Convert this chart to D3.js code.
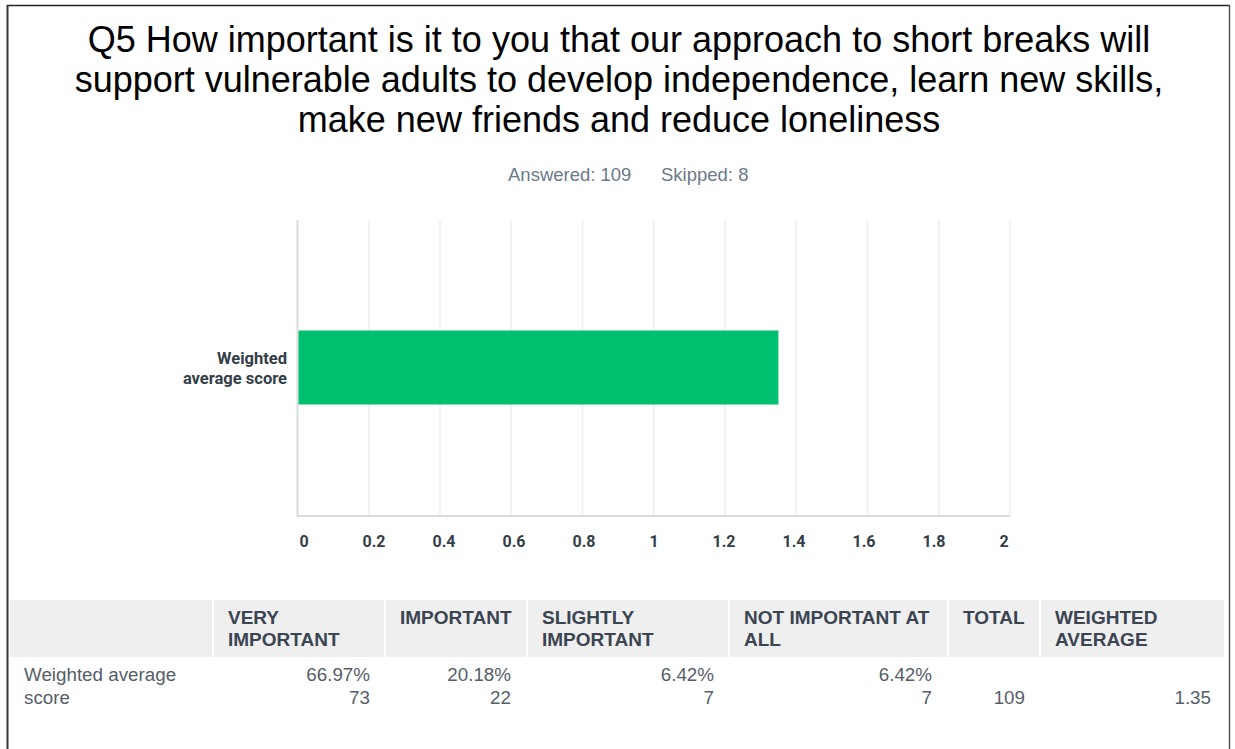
<!DOCTYPE html>
<html>
<head>
<meta charset="utf-8">
<script src="https://cdn.jsdelivr.net/npm/d3@7"></script>
<style>
  html, body { margin: 0; padding: 0; background: #fff; }
  svg { display: block; }
</style>
</head>
<body>
<svg id="chart" width="1235" height="749"></svg>
<script>
// ---- data ----
const titleLines = [
  "Q5 How important is it to you that our approach to short breaks will",
  "support vulnerable adults to develop independence, learn new skills,",
  "make new friends and reduce loneliness"
];
const answered = 109;
const skipped = 8;
const categories = ["Weighted average score"];
const categoryLabelLines = [["Weighted", "average score"]];
const values = [1.35];
const xTicks = [0, 0.2, 0.4, 0.6, 0.8, 1, 1.2, 1.4, 1.6, 1.8, 2];
const tableHeaders = [
  [""],
  ["VERY", "IMPORTANT"],
  ["IMPORTANT"],
  ["SLIGHTLY", "IMPORTANT"],
  ["NOT IMPORTANT AT", "ALL"],
  ["TOTAL"],
  ["WEIGHTED", "AVERAGE"]
];
const rowLabelLines = ["Weighted average", "score"];
const percents = ["66.97%", "20.18%", "6.42%", "6.42%"];
const counts = [73, 22, 7, 7];
const total = 109;
const weightedAverage = "1.35";

// ---- drawing ----
const svg = d3.select("#chart");

// page border
svg.append("line").attr("x1", 7).attr("x2", 1230).attr("y1", 5.5).attr("y2", 5.5)
  .attr("stroke", "#222").attr("stroke-width", 1.5);
svg.append("line").attr("x1", 7.5).attr("x2", 7.5).attr("y1", 5).attr("y2", 749)
  .attr("stroke", "#333").attr("stroke-width", 2);
svg.append("line").attr("x1", 1229.5).attr("x2", 1229.5).attr("y1", 5).attr("y2", 749)
  .attr("stroke", "#555").attr("stroke-width", 1.5);

// title
svg.append("g").selectAll("text").data(titleLines).join("text")
  .attr("x", 619).attr("y", (d, i) => 52 + i * 40)
  .attr("text-anchor", "middle")
  .attr("font-family", "'Liberation Sans', Arial, sans-serif")
  .attr("font-size", 36)
  .attr("fill", "#000")
  .text(d => d);

// answered/skipped
const sub = svg.append("text").attr("y", 180.5)
  .attr("font-family", "'Liberation Sans', Arial, sans-serif")
  .attr("font-size", 18.5).attr("fill", "#6b7a89");
sub.append("tspan").attr("x", 508).text("Answered: " + answered);
sub.append("tspan").attr("x", 661).text("Skipped: " + skipped);

// chart
const x = d3.scaleLinear().domain([0, 2]).range([297.5, 1010]);
const xLabel = d3.scaleLinear().domain([0, 2]).range([304, 1004]);
const y = d3.scaleBand().domain(categories).range([220, 516]).paddingInner(0).paddingOuter(0);
const plotTop = 220, plotBottom = 516;

// gridlines
svg.append("g").selectAll("line").data(xTicks.slice(1)).join("line")
  .attr("x1", d => x(d)).attr("x2", d => x(d))
  .attr("y1", plotTop).attr("y2", plotBottom)
  .attr("stroke", "#eceef0").attr("stroke-width", 1.5);

// left axis line
svg.append("line").attr("x1", x(0)).attr("x2", x(0)).attr("y1", plotTop).attr("y2", plotBottom)
  .attr("stroke", "#d9dbdd").attr("stroke-width", 2);

// bars
const barH = 74;
svg.append("g").selectAll("rect").data(values).join("rect")
  .attr("x", x(0) + 1)
  .attr("y", (d, i) => y(categories[i]) + y.bandwidth() / 2 - barH / 2 - 0.5)
  .attr("width", d => x(d) - x(0) - 1)
  .attr("height", barH)
  .attr("fill", "#00bf6f");

// bottom axis line
svg.append("line").attr("x1", x(0) - 1).attr("x2", x(2)).attr("y1", plotBottom).attr("y2", plotBottom)
  .attr("stroke", "#d9dbdd").attr("stroke-width", 2);

// x tick labels
svg.append("g").selectAll("text").data(xTicks).join("text")
  .attr("x", d => xLabel(d)).attr("y", 546.5)
  .attr("text-anchor", "middle")
  .attr("font-family", "Roboto, 'Noto Sans', sans-serif")
  .attr("font-weight", 700).attr("font-size", 16)
  .attr("fill", "#333e48")
  .text(d => d3.format("~g")(d));

// category labels
categories.forEach((c, i) => {
  const cy = y(c) + y.bandwidth() / 2;
  svg.append("g").selectAll("text").data(categoryLabelLines[i]).join("text")
    .attr("x", 287).attr("y", (d, j) => cy - 4 + j * 20)
    .attr("text-anchor", "end")
    .attr("font-family", "Roboto, 'Noto Sans', sans-serif")
    .attr("font-weight", 700).attr("font-size", 16.5)
    .attr("fill", "#333e48")
    .text(d => d);
});

// table
const colEdges = [10, 214, 386, 528, 730, 949, 1041, 1226];
const headTop = 600, headBottom = 657;
const tbl = svg.append("g");
tableHeaders.forEach((h, i) => {
  const x0 = colEdges[i], x1 = colEdges[i + 1] - 2;
  tbl.append("rect").attr("x", x0).attr("y", headTop).attr("width", x1 - x0)
    .attr("height", headBottom - headTop).attr("fill", "#efefef");
  tbl.append("g").selectAll("text").data(h).join("text")
    .attr("x", x0 + 14).attr("y", (d, j) => 624 + j * 22)
    .attr("font-family", "'Liberation Sans', Arial, sans-serif")
    .attr("font-weight", 700).attr("font-size", 19)
    .attr("fill", "#3a4551")
    .text(d => d);
});

const bodyFont = "'Liberation Sans', Arial, sans-serif";
const bodyColor = "#555e68";
const bodySize = 18.8;
tbl.append("g").selectAll("text").data(rowLabelLines).join("text")
  .attr("x", 24).attr("y", (d, j) => 681 + j * 23)
  .attr("font-family", bodyFont).attr("font-size", bodySize).attr("fill", bodyColor)
  .text(d => d);

const rightEdges = [370, 511, 714, 932];
percents.forEach((p, i) => {
  tbl.append("text").attr("x", rightEdges[i]).attr("y", 681).attr("text-anchor", "end")
    .attr("font-family", bodyFont).attr("font-size", bodySize).attr("fill", bodyColor).text(p);
  tbl.append("text").attr("x", rightEdges[i]).attr("y", 704).attr("text-anchor", "end")
    .attr("font-family", bodyFont).attr("font-size", bodySize).attr("fill", bodyColor).text(counts[i]);
});
tbl.append("text").attr("x", 1025).attr("y", 704).attr("text-anchor", "end")
  .attr("font-family", bodyFont).attr("font-size", bodySize).attr("fill", bodyColor).text(total);
tbl.append("text").attr("x", 1211).attr("y", 704).attr("text-anchor", "end")
  .attr("font-family", bodyFont).attr("font-size", bodySize).attr("fill", bodyColor).text(weightedAverage);
</script>
</body>
</html>
